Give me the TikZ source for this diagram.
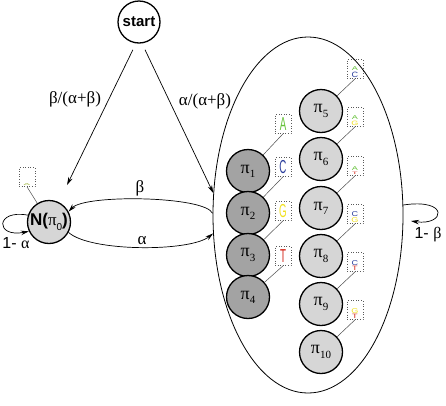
\documentclass[tikz,border=0pt]{standalone}
\usepackage{fontspec}
\setmainfont{Liberation Sans}
\newfontfamily\grk{Liberation Serif}
\usetikzlibrary{shapes.geometric,arrows.meta}
\definecolor{darkstate}{HTML}{A3A3A3}
\definecolor{lightstate}{HTML}{D6D6D6}
\definecolor{logoA}{HTML}{66C23A}
\definecolor{logoC}{HTML}{2B3E9C}
\definecolor{logoG}{HTML}{F0E020}
\definecolor{logoT}{HTML}{D42A1E}
\newcommand{\pilab}[1]{{\grk\fontsize{18}{18}\selectfont π}\raisebox{-0.5ex}{\grk\fontsize{11}{11}\selectfont #1}}
\newcommand{\bigletter}[2]{\textcolor{#1}{\scalebox{0.65}[1.25]{\fontsize{15}{15}\selectfont #2}}}
\newcommand{\duo}[6]{\vbox{\offinterlineskip\halign{\hfil##\hfil\cr
	\textcolor{#1}{\scalebox{1.3}[#3]{\fontsize{7}{7}\selectfont #2}}\cr\noalign{\kern1.4pt}
	\textcolor{#4}{\scalebox{1.3}[#6]{\fontsize{7}{7}\selectfont #5}}\cr}}}

\begin{document}
\begin{tikzpicture}[x=1pt,y=-1pt,
		every node/.style={font=\fontsize{16}{16}\selectfont},
		startnode/.style={circle,draw,line width=1.3pt,minimum size=42pt,inner sep=0pt,font=\fontsize{15}{15}\selectfont\bfseries},
		statenode/.style={circle,draw,line width=1.3pt,minimum size=43pt,inner sep=0pt},
		bigstate/.style={ellipse,draw,line width=0.8pt,minimum width=190pt,minimum height=356pt,inner sep=0pt},
		logobox/.style={draw=gray!70!black,dotted,line width=0.6pt,minimum width=16pt,minimum height=19pt,inner sep=0pt},
		boxline/.style={draw=gray!60!black,line width=0.5pt},
		trans/.style={-{Stealth[length=8pt,width=4.5pt]},line width=0.7pt},
		lbl/.style={inner sep=1pt,font=\grk\fontsize{17}{17}\selectfont}]
	\useasboundingbox (0,0) rectangle (446,405);

	% states
	\node[startnode] (start) at (139,22) {start};
	\node[statenode,fill=lightstate,
		label={center:{\fontsize{17}{17}\selectfont\bfseries N({\mdseries\grk π}\raisebox{-0.5ex}{\mdseries\fontsize{10}{10}\selectfont 0})}}] (n0) at (49,222) {};
	\node[bigstate] (ell) at (308,215) {};

	% background motif, dark columns
	\foreach \i/\y in {1/171,2/213,3/255,4/297}
		\node[statenode,fill=darkstate] (p\i) at (248,\y) {\pilab{\i}};
	\foreach \i/\y/\c/\l in {1/124/logoA/A,2/167/logoC/C,3/211/logoG/G,4/256/logoT/T} {
		\node[logobox] (b\i) at (283,\y) {\bigletter{\c}{\l}};
		\draw[boxline] (p\i) -- (b\i.south);
	}

	% motif columns
	\foreach \i/\y in {5/111,6/159,7/208,8/256,9/304,10/352}
		\node[statenode,fill=lightstate] (p\i) at (321,\y) {\pilab{\i}};
	\node[logobox,label={[anchor=south,inner sep=0.8pt]south:\duo{logoA}{A}{0.8}{logoC}{C}{1.1}}] (b5) at (355,69) {};
	\node[logobox,label={[anchor=south,inner sep=0.8pt]south:\duo{logoA}{A}{0.8}{logoG}{G}{0.9}}] (b6) at (355,117) {};
	\node[logobox,label={[anchor=south,inner sep=0.8pt]south:\duo{logoA}{A}{0.8}{logoT}{T}{0.5}}] (b7) at (355,166) {};
	\node[logobox,label={[anchor=south,inner sep=0.8pt]south:\duo{logoC}{C}{1.0}{logoG}{G}{1.0}}] (b8) at (355,214) {};
	\node[logobox,label={[anchor=south,inner sep=0.8pt]south:\duo{logoC}{C}{1.0}{logoT}{T}{0.9}}] (b9) at (355,262) {};
	\node[logobox,label={[anchor=south,inner sep=0.8pt]south:\duo{logoG}{G}{1.0}{logoT}{T}{0.9}}] (b10) at (355,310) {};
	\foreach \i in {5,...,10}
		\draw[boxline] (p\i) -- (b\i.south);

	\node[logobox,label={[anchor=south,inner sep=1pt]south:\textcolor{logoA!70!orange}{\scalebox{1.4}[0.4]{\fontsize{7}{7}\selectfont A}}}] (b0) at (27,177) {};
	\draw[boxline] (n0) -- (b0.south);

	% transitions
	\path[trans]
		(start.262) edge [shorten <=7pt,shorten >=19pt] (n0)
		(start.278) edge [shorten <=7pt] (ell.167);
	\draw[trans] (ell.179) .. controls (205,196) and (85,194) .. (n0.28);
	\draw[trans] (n0.-28) .. controls (90,252) and (190,252) .. (ell.191);
	\draw[trans] (n0.162) .. controls (-5,209) and (-5,238) .. (n0.205);
	\coordinate (ellback) at (411,221);
	\draw[trans] (ell.6) .. controls (450,198) and (445,226) .. (ellback);

	% labels
	\node[lbl] (pbeta) at (75,99) {β/(α+β)};
	\node[lbl] (palpha) at (205,101) {α/(α+β)};
	\node[lbl] (beta) at (140,188) {β};
	\node[lbl] (alpha) at (142,241) {α};
	\node[inner sep=0pt] (stayn) at (16,243) {1- {\grk α}};
	\node[inner sep=0pt] (stayell) at (428,235) {1- {\grk β}};
\end{tikzpicture}
\end{document}
